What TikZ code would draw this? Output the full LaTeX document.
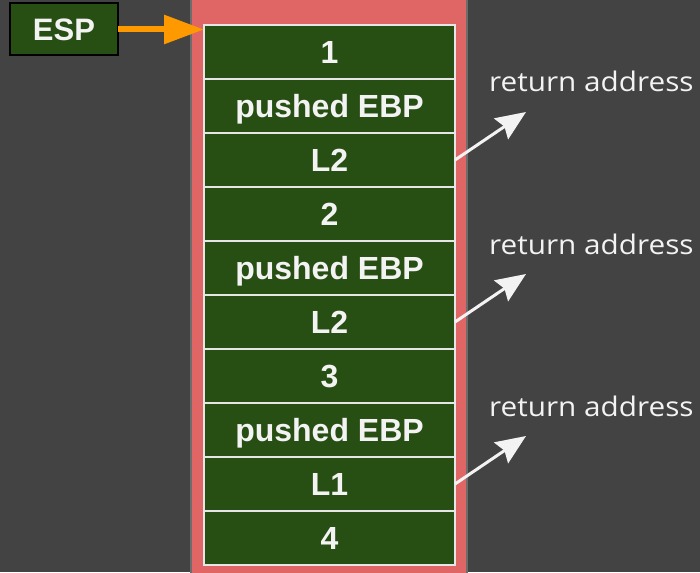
\documentclass[tikz,border=0pt]{standalone}
\usepackage{fontspec}
\setmainfont{Liberation Sans}
\newfontfamily\notefont[FakeStretch=1.1]{Open Sans}
\usetikzlibrary{arrows.meta}

\definecolor{bgdark}{HTML}{434343}
\definecolor{stackred}{HTML}{E06666}
\definecolor{cellgreen}{HTML}{274E13}
\definecolor{celltext}{HTML}{F3F3F3}
\definecolor{cellline}{HTML}{E6E6E6}
\definecolor{pointer}{HTML}{FF9900}

\tikzset{
  cellbox/.style={rectangle, fill=cellgreen, draw=cellline, line width=1.5pt,
    minimum width=251pt, minimum height=54pt, inner sep=0pt, outer sep=0pt,
    text height=23pt, text depth=0pt,
    text=celltext, font=\bfseries\fontsize{32}{38}\selectfont},
  espbox/.style={rectangle, fill=cellgreen, draw=black, line width=2pt,
    minimum width=108pt, minimum height=52pt, inner sep=0pt, outer sep=0pt,
    text height=22pt, text depth=0pt,
    text=celltext, font=\bfseries\fontsize{31}{37}\selectfont},
  notelabel/.style={anchor=base west, inner sep=0pt, text=celltext,
    font=\notefont\fontsize{27}{32}\selectfont},
  retarrow/.style={draw=celltext, line width=3pt,
    -{Stealth[length=30pt, width=25pt, inset=4pt]}},
  esparrow/.style={draw=pointer, line width=6pt,
    -{Triangle[length=40pt, width=28pt]}, shorten >=0pt},
}

\begin{document}
\begin{tikzpicture}[x=1pt, y=-1pt]
  % canvas
  \fill[bgdark] (0,0) rectangle (700,572);
  \useasboundingbox (0,0) rectangle (700,572);
  % stack region
  \filldraw[fill=stackred, draw=gray!70!bgdark, line width=1.5pt] (191,-5) rectangle (467,580);

  % stack cells, top to bottom
  \foreach \i/\txt in {0/1, 1/pushed EBP, 2/L2, 3/2, 4/pushed EBP, 5/L2, 6/3, 7/pushed EBP, 8/L1, 9/4} {
    \node[cellbox] (c\i) at (329.5, {25+54*(\i+0.5)}) {\txt};
  }

  % stack pointer
  \node[espbox] (esp) at (64, 29.5) {ESP};
  \draw[esparrow] (esp.east) -- (esp.east -| c0.west);

  % return address annotations
  \foreach \c/\k in {c2/1, c5/2, c8/3} {
    \coordinate (tip\k) at ([shift={(71,-48)}]\c.east);
    \draw[retarrow] (\c.east) -- (tip\k);
    \node[notelabel] (ra\k) at ([shift={(-37,-20)}]tip\k) {return address};
  }
\end{tikzpicture}
\end{document}
